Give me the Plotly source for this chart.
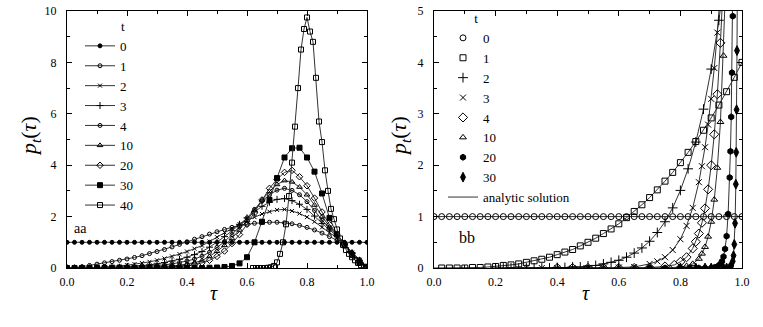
import plotly.graph_objects as go

# tau grid shared by the uniform/low-t curves
TAU_GRID = [0.0, 0.025, 0.05, 0.075, 0.1, 0.125, 0.15, 0.175, 0.2, 0.225,
            0.25, 0.275, 0.3, 0.325, 0.35, 0.375, 0.4, 0.425, 0.45, 0.475,
            0.5, 0.525, 0.55, 0.575, 0.6, 0.625, 0.65, 0.675, 0.7, 0.725,
            0.75, 0.775, 0.8, 0.825, 0.85, 0.875, 0.9, 0.925, 0.95, 0.975, 1.0]

# t = 0 is the uniform distribution (both panels)
P_UNIFORM = [1.0, 1.0, 1.0, 1.0, 1.0, 1.0, 1.0, 1.0, 1.0, 1.0, 1.0, 1.0, 1.0, 1.0,
             1.0, 1.0, 1.0, 1.0, 1.0, 1.0, 1.0, 1.0, 1.0, 1.0, 1.0, 1.0, 1.0, 1.0,
             1.0, 1.0, 1.0, 1.0, 1.0, 1.0, 1.0, 1.0, 1.0, 1.0, 1.0, 1.0, 1.0]

# ---- panel aa ----
PL_T1 = [0.00, 0.02, 0.05, 0.10, 0.15, 0.20, 0.25, 0.30, 0.35, 0.41, 0.48, 0.56, 0.64, 0.72,
         0.82, 0.92, 1.02, 1.12, 1.22, 1.32, 1.41, 1.50, 1.58, 1.65, 1.70, 1.74, 1.77, 1.78,
         1.78, 1.76, 1.72, 1.66, 1.58, 1.48, 1.36, 1.22, 1.08, 0.86, 0.60, 0.33, 0.05]
PL_T2 = [0.00, 0.00, 0.01, 0.01, 0.02, 0.04, 0.06, 0.08, 0.11, 0.15, 0.19, 0.24, 0.30, 0.37,
         0.45, 0.54, 0.64, 0.75, 0.87, 1.03, 1.20, 1.38, 1.55, 1.71, 1.85, 1.98, 2.10, 2.19,
         2.26, 2.28, 2.22, 2.12, 1.98, 1.80, 1.58, 1.37, 1.18, 0.90, 0.60, 0.32, 0.04]
PL_T3 = [0.00, 0.00, 0.00, 0.00, 0.01, 0.01, 0.02, 0.03, 0.05, 0.07, 0.09, 0.12, 0.16, 0.21,
         0.27, 0.34, 0.42, 0.52, 0.64, 0.81, 1.00, 1.22, 1.45, 1.70, 1.95, 2.18, 2.40, 2.56,
         2.67, 2.70, 2.62, 2.48, 2.28, 2.02, 1.73, 1.48, 1.25, 0.92, 0.60, 0.30, 0.03]
PL_T4 = [0.00, 0.00, 0.00, 0.00, 0.00, 0.00, 0.01, 0.01, 0.02, 0.03, 0.05, 0.07, 0.09, 0.12,
         0.16, 0.21, 0.27, 0.35, 0.46, 0.61, 0.80, 1.03, 1.30, 1.62, 1.95, 2.28, 2.60, 2.85,
         3.03, 3.10, 3.02, 2.85, 2.58, 2.24, 1.86, 1.55, 1.28, 0.93, 0.58, 0.28, 0.03]
PL_T10 = [0.00, 0.00, 0.00, 0.00, 0.00, 0.00, 0.00, 0.00, 0.00, 0.01, 0.02, 0.03, 0.04, 0.06,
          0.08, 0.11, 0.15, 0.21, 0.29, 0.45, 0.65, 0.88, 1.15, 1.48, 1.85, 2.25, 2.65, 2.98,
          3.25, 3.40, 3.35, 3.15, 2.85, 2.45, 2.00, 1.60, 1.30, 0.93, 0.57, 0.26, 0.03]
PL_T20 = [0.00, 0.00, 0.00, 0.00, 0.00, 0.00, 0.00, 0.00, 0.00, 0.00, 0.00, 0.01, 0.02, 0.03,
          0.04, 0.06, 0.09, 0.13, 0.20, 0.30, 0.45, 0.66, 0.95, 1.30, 1.70, 2.15, 2.65, 3.10,
          3.45, 3.72, 3.80, 3.55, 3.20, 2.72, 2.18, 1.68, 1.32, 0.94, 0.56, 0.24, 0.02]
PL_T30 = [0.00, 0.00, 0.00, 0.00, 0.00, 0.00, 0.00, 0.00, 0.00, 0.00, 0.00, 0.00, 0.00, 0.00,
          0.00, 0.00, 0.00, 0.00, 0.00, 0.01, 0.02, 0.04, 0.08, 0.18, 0.42, 1.00, 1.80, 2.65,
          3.50, 4.30, 4.66, 4.68, 4.30, 3.75, 2.90, 1.95, 1.30, 0.88, 0.50, 0.20, 0.02]
TAU_L40 = [0.62, 0.63, 0.64, 0.65, 0.66, 0.67, 0.68, 0.69, 0.70, 0.71, 0.72, 0.73, 0.74,
           0.75, 0.76, 0.77, 0.78, 0.79, 0.80, 0.81, 0.82, 0.83, 0.84, 0.85, 0.86, 0.87,
           0.88, 0.89, 0.90, 0.91, 0.92, 0.93, 0.94, 0.95, 0.96, 0.97, 0.98, 0.99, 1.00]
PL_T40 = [0.00, 0.00, 0.00, 0.00, 0.00, 0.01, 0.03, 0.08, 0.22, 0.55, 1.00, 1.70, 2.80,
          4.10, 5.50, 7.00, 8.50, 9.30, 9.75, 9.20, 8.80, 7.40, 5.70, 4.90, 3.80, 3.00,
          2.30, 1.90, 1.50, 1.15, 0.90, 0.70, 0.55, 0.42, 0.30, 0.20, 0.11, 0.05, 0.01]

# ---- panel bb ----
PR_T1 = [0.00, 0.00, 0.00, 0.00, 0.00, 0.01, 0.01, 0.02, 0.03, 0.05, 0.06, 0.08, 0.11, 0.14,
         0.17, 0.21, 0.26, 0.31, 0.36, 0.43, 0.50, 0.58, 0.67, 0.76, 0.86, 0.98, 1.10, 1.23,
         1.37, 1.52, 1.69, 1.86, 2.05, 2.25, 2.46, 2.68, 2.92, 3.17, 3.43, 3.71, 4.00]
TAU_R2 = [0.2, 0.225, 0.25, 0.275, 0.3, 0.325, 0.35, 0.375, 0.4, 0.425, 0.45, 0.475, 0.5,
          0.525, 0.55, 0.575, 0.6, 0.625, 0.65, 0.675, 0.7, 0.725, 0.75, 0.775, 0.8, 0.825,
          0.85, 0.875, 0.9, 0.925, 0.95]
PR_T2 = [0.00, 0.00, 0.00, 0.00, 0.00, 0.00, 0.00, 0.00, 0.01, 0.01, 0.02, 0.02, 0.04, 0.05,
         0.08, 0.11, 0.15, 0.21, 0.29, 0.39, 0.52, 0.69, 0.90, 1.17, 1.51, 1.93, 2.45, 3.09,
         3.87, 4.82, 5.97]
TAU_R3 = [0.3, 0.35, 0.4, 0.45, 0.5, 0.55, 0.6, 0.65, 0.7, 0.725, 0.75, 0.775, 0.8, 0.82,
          0.84, 0.86, 0.87, 0.88, 0.89, 0.9, 0.91, 0.92, 0.93]
PR_T3 = [0.00, 0.00, 0.00, 0.00, 0.00, 0.00, 0.01, 0.02, 0.08, 0.13, 0.21, 0.35, 0.56, 0.82,
         1.17, 1.67, 1.98, 2.35, 2.79, 3.29, 3.89, 4.58, 5.39]
TAU_R4 = [0.4, 0.45, 0.5, 0.55, 0.6, 0.65, 0.7, 0.75, 0.78, 0.8, 0.82, 0.84, 0.85, 0.86,
          0.87, 0.88, 0.89, 0.9, 0.91, 0.92, 0.93, 0.94]
PR_T4 = [0.00, 0.00, 0.00, 0.00, 0.00, 0.00, 0.01, 0.03, 0.06, 0.12, 0.21, 0.38, 0.51, 0.67,
         0.88, 1.16, 1.53, 2.00, 2.60, 3.38, 4.38, 5.66]
TAU_R10 = [0.5, 0.55, 0.6, 0.65, 0.7, 0.75, 0.8, 0.82, 0.84, 0.86, 0.87, 0.88, 0.89, 0.9,
           0.91, 0.92, 0.93, 0.94, 0.95]
PR_T10 = [0.00, 0.00, 0.00, 0.00, 0.00, 0.00, 0.02, 0.04, 0.08, 0.18, 0.28, 0.41, 0.61, 0.90,
          1.33, 1.95, 2.84, 4.13, 5.98]
TAU_R20 = [0.7, 0.75, 0.8, 0.83, 0.86, 0.88, 0.9, 0.91, 0.92, 0.93, 0.935, 0.94, 0.945, 0.95,
           0.955, 0.96, 0.9625, 0.965, 0.9675, 0.97, 0.975]
PR_T20 = [0.00, 0.00, 0.00, 0.00, 0.00, 0.00, 0.00, 0.01, 0.03, 0.08, 0.13, 0.22, 0.37, 0.62,
          1.05, 1.76, 2.27, 2.94, 3.80, 4.90, 8.15]
TAU_R30 = [0.8, 0.85, 0.88, 0.9, 0.92, 0.94, 0.95, 0.96, 0.965, 0.97, 0.9725, 0.975, 0.9775,
           0.98, 0.98125, 0.9825, 0.98375, 0.985]
PR_T30 = [0.00, 0.00, 0.00, 0.00, 0.00, 0.00, 0.00, 0.01, 0.04, 0.13, 0.24, 0.46, 0.87, 1.63,
          2.25, 3.08, 4.23, 5.80]

SERIF = "Liberation Serif"
INK = "black"
LINE = "#333333"
NBSP = "\u00a0"

W, H = 763, 327


def px_x(p):
    return p / W


def px_y(p):
    return 1 - p / H


fig = go.Figure()

# left panel: markers joined by lines
left = [
    ("0", TAU_GRID, P_UNIFORM, "circle", 4),
    ("1", TAU_GRID, PL_T1, "circle-open", 4),
    ("2", TAU_GRID, PL_T2, "x-thin", 4),
    ("3", TAU_GRID, PL_T3, "cross-thin", 5),
    ("4", TAU_GRID, PL_T4, "circle-open-dot", 4),
    ("10", TAU_GRID, PL_T10, "triangle-up-open", 5),
    ("20", TAU_GRID, PL_T20, "diamond-open", 5),
    ("30", TAU_GRID, PL_T30, "square", 5),
    ("40", TAU_L40, PL_T40, "square-open", 5),
]
for name, x, y, sym, size in left:
    fig.add_trace(go.Scatter(
        x=x, y=y, name=name, mode="lines+markers", xaxis="x", yaxis="y",
        legend="legend",
        line=dict(color=LINE, width=1),
        marker=dict(symbol=sym, size=size, color=INK, line=dict(color=INK, width=1)),
    ))

# right panel: analytic curves first (underneath), then simulation markers
right = [
    ("0", TAU_GRID, P_UNIFORM, 0, "circle-open", 6),
    ("1", TAU_GRID, PR_T1, 1, "square-open", 6),
    ("2", TAU_R2, PR_T2, 0, "cross-thin", 7),
    ("3", TAU_R3, PR_T3, 0, "x-thin", 6),
    ("4", TAU_R4, PR_T4, 0, "diamond-open", 7),
    ("10", TAU_R10, PR_T10, 0, "triangle-up-open", 6),
    ("20", TAU_R20, PR_T20, 0, "hexagon", 6),
    ("30", TAU_R30, PR_T30, 0, "diamond-tall", 7),
]
for i, (name, x, y, skip, sym, size) in enumerate(right):
    fig.add_trace(go.Scatter(
        x=x, y=y, name="analytic solution", mode="lines", xaxis="x2", yaxis="y2",
        legend="legend2", legendrank=100, showlegend=(i == 0),
        line=dict(color=LINE, width=1),
    ))
for i, (name, x, y, skip, sym, size) in enumerate(right):
    fig.add_trace(go.Scatter(
        x=x[skip:], y=y[skip:], name=name, mode="markers", xaxis="x2", yaxis="y2",
        legend="legend2", legendrank=i + 1,
        marker=dict(symbol=sym, size=size, color=INK, line=dict(color=INK, width=1)),
    ))

axis_style = dict(
    showline=True, linecolor=INK, linewidth=1, mirror="allticks",
    ticks="inside", ticklen=5, tickcolor=INK, tickwidth=1,
    showgrid=False, zeroline=False, automargin=False,
    tickfont=dict(family=SERIF, size=12, color=INK),
)

fig.update_layout(
    width=W, height=H,
    margin=dict(l=0, r=0, t=0, b=0),
    paper_bgcolor="white", plot_bgcolor="white",
    font=dict(family=SERIF, color=INK),
    xaxis=dict(axis_style, domain=[px_x(67), px_x(367)], anchor="y", range=[0, 1],
               dtick=0.2, tickformat=".1f", ticklabelstandoff=3,
               minor=dict(dtick=0.1, ticks="inside", ticklen=3, tickcolor=INK)),
    yaxis=dict(axis_style, domain=[px_y(268), px_y(11)], anchor="x", range=[0, 10],
               dtick=2, ticklabelstandoff=7,
               minor=dict(dtick=1, ticks="inside", ticklen=3, tickcolor=INK)),
    xaxis2=dict(axis_style, domain=[px_x(434), px_x(742)], anchor="y2", range=[0, 1],
                dtick=0.2, tickformat=".1f", ticklabelstandoff=3,
                minor=dict(dtick=0.1, ticks="inside", ticklen=3, tickcolor=INK)),
    yaxis2=dict(axis_style, domain=[px_y(268), px_y(11)], anchor="x2", range=[0, 5],
                dtick=1, ticklabelstandoff=7,
                minor=dict(dtick=0.5, ticks="inside", ticklen=3, tickcolor=INK)),
    legend=dict(
        x=px_x(80), y=px_y(14), xanchor="left", yanchor="top",
        bgcolor="rgba(0,0,0,0)", borderwidth=0, tracegroupgap=0,
        font=dict(family=SERIF, size=13, color=INK),
        title=dict(text=NBSP * 12 + "t", font=dict(family=SERIF, size=13, color=INK)),
    ),
    legend2=dict(
        x=px_x(443), y=px_y(6), xanchor="left", yanchor="top",
        bgcolor="rgba(0,0,0,0)", borderwidth=0, tracegroupgap=0,
        font=dict(family=SERIF, size=13, color=INK),
        title=dict(text=NBSP * 9 + "t", font=dict(family=SERIF, size=13, color=INK)),
    ),
)

ylab = "<i>p</i><sub><i>t</i></sub>(<i>τ</i>)"
notes = [
    dict(x=px_x(30), y=px_y(136), text=ylab, textangle=-90, size=22),
    dict(x=px_x(400), y=px_y(136), text=ylab, textangle=-90, size=22),
    dict(x=px_x(214), y=px_y(293), text="<i>τ</i>", textangle=0, size=20),
    dict(x=px_x(586), y=px_y(293), text="<i>τ</i>", textangle=0, size=20),
]
for n in notes:
    fig.add_annotation(x=n["x"], y=n["y"], xref="paper", yref="paper", text=n["text"],
                       textangle=n["textangle"], showarrow=False,
                       xanchor="center", yanchor="middle",
                       font=dict(family=SERIF, size=n["size"], color=INK))

fig.add_annotation(x=0.015, y=1.55, xref="x", yref="y", text="aa", showarrow=False,
                   xanchor="left", yanchor="middle",
                   font=dict(family=SERIF, size=14, color=INK))
fig.add_annotation(x=0.075, y=0.6, xref="x2", yref="y2", text="bb", showarrow=False,
                   xanchor="left", yanchor="middle",
                   font=dict(family=SERIF, size=16, color=INK))

# the page body has a default 8px margin; drop it so the figure fills the window
fig.write_html("out.html", config={"displayModeBar": False},
               post_script="document.body.style.margin='0';")
